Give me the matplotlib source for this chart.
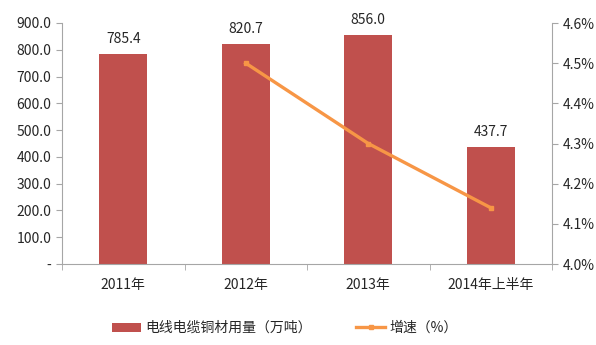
import numpy as np
import matplotlib
matplotlib.use("Agg")
import matplotlib.pyplot as plt
from matplotlib.ticker import FuncFormatter

plt.rcParams['font.family'] = ['Noto Sans CJK SC', 'DejaVu Sans']

# data
categories = ['2011年', '2012年', '2013年', '2014年上半年']
usage = [785.4, 820.7, 856.0, 437.7]          # 电线电缆铜材用量（万吨）
growth_cats = ['2012年', '2013年', '2014年上半年']
growth = [4.5, 4.3, 4.14]                      # 增速（%）

bar_color = '#C0504D'
line_color = '#F79646'
axis_color = '#A6A6A6'
text_color = '#262626'

fig = plt.figure(figsize=(5.96, 3.45), dpi=100)
ax = fig.add_axes([62/596, 1 - 264/345, (552 - 62)/596, (264 - 23)/345])
ax2 = ax.twinx()

x = np.arange(len(categories))
ax.bar(x, usage, width=0.39, color=bar_color, zorder=2, label='电线电缆铜材用量（万吨）')
for xi, v in zip(x, usage):
    ax.text(xi, v + 30, f'{v:.1f}', ha='center', va='bottom', fontsize=10, color=text_color)

gx = [categories.index(c) for c in growth_cats]
ax2.plot(gx, growth, color=line_color, lw=2.4, marker='s', markersize=3.5, zorder=3,
         label='增速（%）')

ax.set_xlim(-0.5, len(categories) - 0.5)
ax.set_ylim(0, 900)
ax.set_yticks(np.arange(0, 901, 100))
ax.yaxis.set_major_formatter(FuncFormatter(lambda v, p: '-' if v == 0 else f'{v:.1f}'))
ax2.set_ylim(4.0, 4.6)
ax2.set_yticks(np.arange(4.0, 4.61, 0.1))
ax2.yaxis.set_major_formatter(FuncFormatter(lambda v, p: f'{v:.1f}%'))

ax.set_xticks(x)
ax.set_xticklabels(categories)
ax.set_xticks(np.arange(-0.5, len(categories)), minor=True)
ax.tick_params(axis='x', which='major', length=0, pad=10)
ax.tick_params(axis='x', which='minor', length=4, color=axis_color, direction='out')

for a in (ax, ax2):
    for s in a.spines.values():
        s.set_visible(False)
    a.tick_params(axis='y', length=4, color=axis_color, labelsize=10, labelcolor=text_color)
ax.tick_params(axis='x', labelsize=10, labelcolor=text_color)
ax.spines['left'].set_visible(True)
ax.spines['left'].set_color(axis_color)
ax.spines['bottom'].set_visible(True)
ax.spines['bottom'].set_color(axis_color)
ax2.spines['right'].set_visible(True)
ax2.spines['right'].set_color(axis_color)

h1, l1 = ax.get_legend_handles_labels()
h2, l2 = ax2.get_legend_handles_labels()
fig.legend(h1 + h2, l1 + l2, loc='center', bbox_to_anchor=(0.478, 1 - 328/345), ncol=2,
           frameon=False, fontsize=10, handlelength=2.1, columnspacing=3.2,
           handleheight=0.6, handletextpad=0.3, labelcolor=text_color)

fig.savefig('out.png', dpi=100)
